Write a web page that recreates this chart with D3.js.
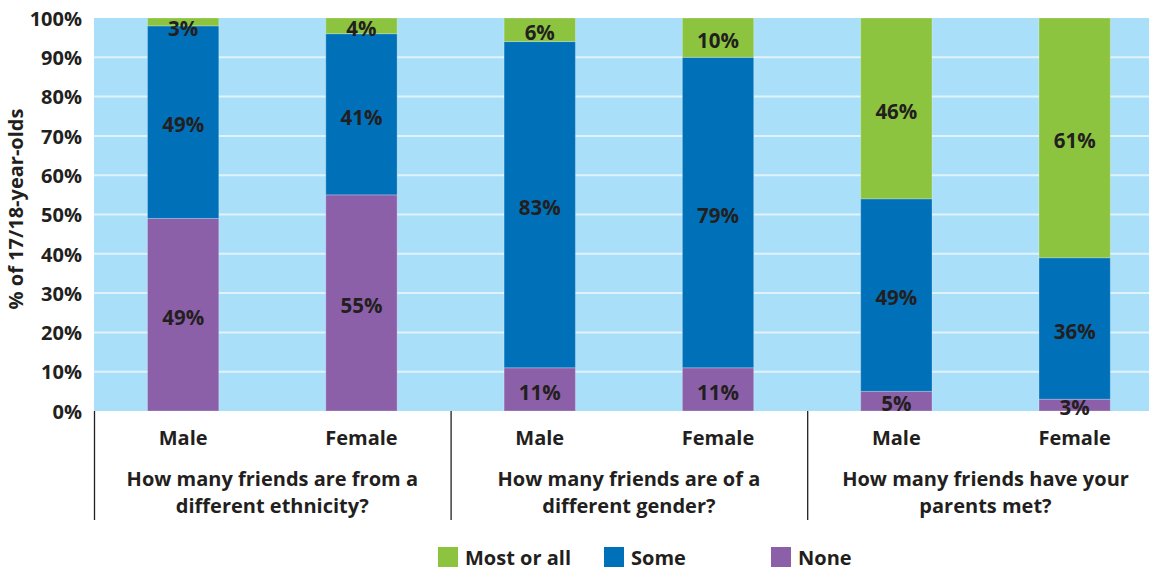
<!DOCTYPE html>
<html>
<head>
<meta charset="utf-8">
<script src="https://cdn.jsdelivr.net/npm/d3@7"></script>
<style>
  html, body { margin: 0; padding: 0; background: #ffffff; }
  svg { display: block; font-family: "Open Sans", "Noto Sans", sans-serif; font-weight: 700; }
</style>
</head>
<body>
<svg id="chart" width="1149" height="571"></svg>
<script>
// Survey questions (groups) and the respondents within each
const questions = [
  ["How many friends are from a", "different ethnicity?"],
  ["How many friends are of a", "different gender?"],
  ["How many friends have your", "parents met?"]
];
const genders = ["Male", "Female"];

// Response categories, stacked bottom to top
const responses = ["None", "Some", "Most or all"];

// Percentages per bar, in order: ethnicity M/F, gender M/F, parents M/F
const noneValues = [49, 55, 11, 11, 5, 3];
const someValues = [49, 41, 83, 79, 49, 36];
const mostValues = [3, 4, 6, 10, 46, 61];

const yTicks = [0, 10, 20, 30, 40, 50, 60, 70, 80, 90, 100];

const colors = { "None": "#8b60a8", "Some": "#0070b9", "Most or all": "#8cc43f" };
const legendOrder = ["Most or all", "Some", "None"];

// Build one row per bar
const rows = [];
questions.forEach((q, qi) => {
  genders.forEach((g, gi) => {
    const i = qi * genders.length + gi;
    rows.push({
      key: qi + "-" + g,
      gender: g,
      question: qi,
      "None": noneValues[i],
      "Some": someValues[i],
      "Most or all": mostValues[i]
    });
  });
});

const svg = d3.select("#chart");
const plotLeft = 94, plotTop = 18, plotBottom = 411;

const x = d3.scaleBand()
  .domain(rows.map(d => d.key))
  .range([plotLeft, plotLeft + 6 * 178.3])
  .paddingInner(0.6)
  .paddingOuter(0.3);

const y = d3.scaleLinear().domain([0, 100]).range([plotBottom, plotTop]).clamp(true);

// Plot background
svg.append("rect")
  .attr("x", plotLeft).attr("y", plotTop)
  .attr("width", 1149 - plotLeft).attr("height", plotBottom - plotTop)
  .attr("fill", "#aadff9");

// Horizontal gridlines
svg.append("g")
  .selectAll("line")
  .data(yTicks.filter(t => t > 0 && t < 100))
  .join("line")
  .attr("x1", plotLeft).attr("x2", 1149)
  .attr("y1", d => y(d)).attr("y2", d => y(d))
  .attr("stroke", "#dff3fd").attr("stroke-width", 2);

// Stacked bars
const series = d3.stack().keys(responses)(rows);

const layers = svg.append("g")
  .selectAll("g")
  .data(series)
  .join("g")
  .attr("fill", s => colors[s.key]);

layers.selectAll("rect")
  .data(s => s)
  .join("rect")
  .attr("x", d => x(d.data.key))
  .attr("width", x.bandwidth())
  .attr("y", d => y(d[1]))
  .attr("height", d => y(d[0]) - y(d[1]))
  .attr("stroke", "rgba(255,255,255,0.25)")
  .attr("stroke-width", 1);

// Value labels centred in each segment, kept inside the plot at the top
const labelData = [];
series.forEach(s => {
  s.forEach(d => {
    const mid = (y(d[0]) + y(d[1])) / 2;
    labelData.push({
      cx: x(d.data.key) + x.bandwidth() / 2,
      cy: Math.max(mid, plotTop + 8),
      text: (d[1] - d[0]) + "%"
    });
  });
});

svg.append("g")
  .selectAll("text")
  .data(labelData)
  .join("text")
  .attr("x", d => d.cx)
  .attr("y", d => d.cy)
  .attr("dy", "0.5em")
  .attr("text-anchor", "middle")
  .attr("font-size", 20.5)
  .attr("fill", "#231f20")
  .text(d => d.text);

// Y axis
const yAxis = svg.append("g")
  .attr("transform", `translate(${plotLeft},0)`)
  .call(d3.axisLeft(y).tickValues(yTicks).tickFormat(d => d + "%").tickSize(0).tickPadding(12));
yAxis.select(".domain").remove();
yAxis.selectAll("text")
  .attr("font-size", 20)
  .attr("font-family", "'Open Sans', 'Noto Sans', sans-serif")
  .attr("font-weight", 700)
  .attr("fill", "#231f20")
  .attr("dy", "0.36em");

// Y axis title
svg.append("text")
  .attr("transform", "translate(23,209) rotate(-90)")
  .attr("text-anchor", "middle")
  .attr("font-size", 20)
  .attr("fill", "#231f20")
  .text("% of 17/18-year-olds");

// Gender labels under each bar
svg.append("g")
  .selectAll("text")
  .data(rows)
  .join("text")
  .attr("x", d => x(d.key) + x.bandwidth() / 2)
  .attr("y", 445)
  .attr("text-anchor", "middle")
  .attr("font-size", 20)
  .attr("fill", "#231f20")
  .text(d => d.gender);

// Group separators and question labels
const step = x.step();
const groupWidth = step * genders.length;
svg.append("g")
  .selectAll("line")
  .data(d3.range(questions.length))
  .join("line")
  .attr("x1", i => plotLeft + i * groupWidth + 0.5)
  .attr("x2", i => plotLeft + i * groupWidth + 0.5)
  .attr("y1", plotBottom)
  .attr("y2", 520)
  .attr("stroke", "#231f20")
  .attr("stroke-width", 1.3);

const qText = svg.append("g")
  .selectAll("text")
  .data(questions)
  .join("text")
  .attr("text-anchor", "middle")
  .attr("font-size", 20)
  .attr("fill", "#231f20");
qText.selectAll("tspan")
  .data((q, i) => q.map((line, li) => ({ line, li, i })))
  .join("tspan")
  .attr("x", d => plotLeft + d.i * groupWidth + groupWidth / 2)
  .attr("y", d => 486 + d.li * 27)
  .text(d => d.line);

// Legend
const legendX = [438, 604, 771];
const legend = svg.append("g")
  .selectAll("g")
  .data(legendOrder)
  .join("g")
  .attr("transform", (d, i) => `translate(${legendX[i]},547)`);
legend.append("rect")
  .attr("width", 20).attr("height", 20)
  .attr("fill", d => colors[d]);
legend.append("text")
  .attr("x", 27).attr("y", 18)
  .attr("font-size", 20)
  .attr("fill", "#231f20")
  .text(d => d);
</script>
</body>
</html>
